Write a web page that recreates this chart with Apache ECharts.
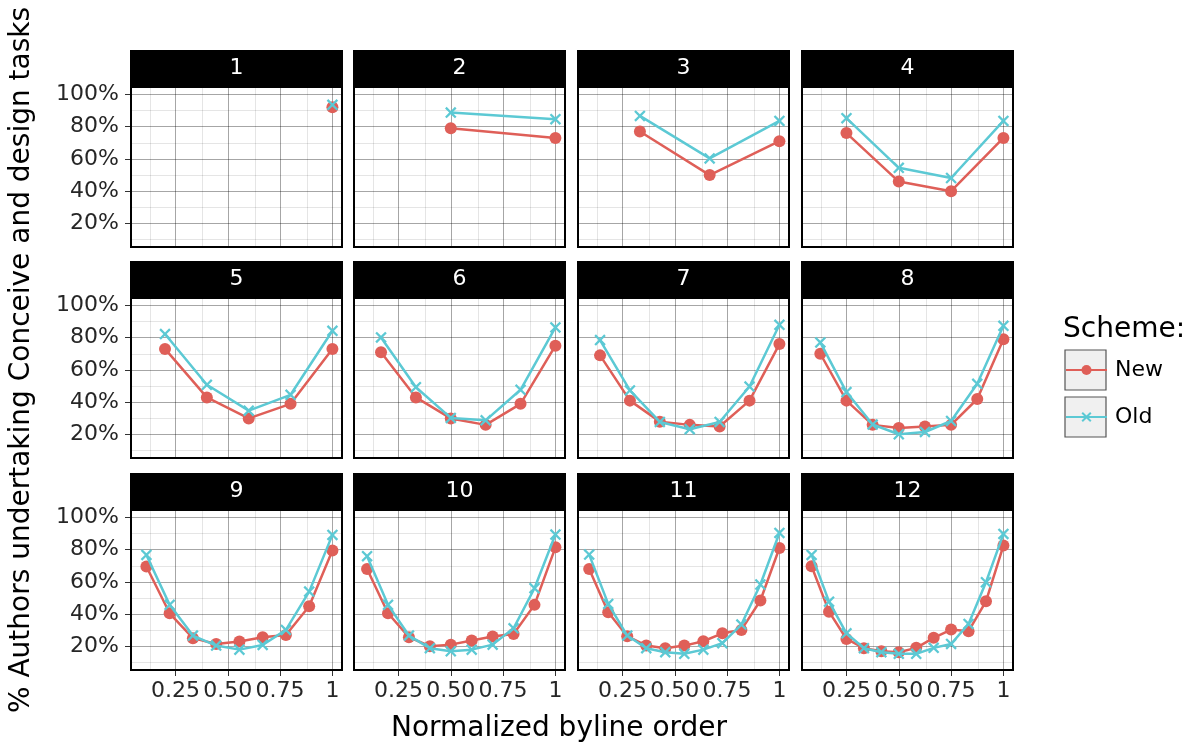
<!DOCTYPE html>
<html>
<head>
<meta charset="utf-8">
<script src="https://cdn.jsdelivr.net/npm/echarts@6/dist/echarts.min.js"></script>
<style>html,body{margin:0;padding:0;background:#fff}#c{width:1197px;height:749px}</style>
</head>
<body>
<div id="c"></div>
<script>
// ---- data ----
const panelLabels = ['1','2','3','4','5','6','7','8','9','10','11','12'];
const authorCounts = [1,2,3,4,5,6,7,8,9,10,11,12];
// % of authors undertaking "Conceive and design" by byline position (New scheme)
const newScheme = [
  [92],
  [79, 73],
  [77, 50, 71],
  [76, 46, 40, 73],
  [73, 43, 30, 39, 73],
  [71, 43, 30, 26, 39, 75],
  [69, 41, 28, 26, 25, 41, 76],
  [70, 41, 26, 24, 25, 26, 42, 79],
  [69.5, 40.6, 25.2, 21.6, 23.1, 25.8, 27.2, 44.9, 79.4],
  [68, 40.6, 25.8, 20.2, 21.2, 23.7, 26.2, 27.8, 45.8, 81.4],
  [68, 41.2, 26.4, 20.6, 19, 20.6, 23.3, 28.2, 30.3, 48.5, 81],
  [69.7, 41.6, 24.7, 19, 17.1, 16.5, 19.2, 25.4, 30.5, 29.5, 48, 82.5]
];
// (Old scheme)
const oldScheme = [
  [93.5],
  [88.7, 84.6],
  [86.6, 60.3, 83.5],
  [85.2, 54.5, 48.2, 83.5],
  [82.2, 50.8, 34.8, 44.6, 84.2],
  [80.1, 49.3, 30.3, 28.8, 47.7, 86.3],
  [78.5, 47.3, 27.8, 23.3, 27.8, 49.7, 87.9],
  [77, 46.3, 26.2, 20.2, 21.6, 28.4, 51.4, 87.3],
  [76.7, 45.8, 26.8, 20.6, 18.1, 21, 30.3, 54, 89.1],
  [75.9, 45.8, 26.8, 19, 17.1, 18.1, 21.2, 31.3, 56.1, 89.3],
  [76.9, 46.4, 26.8, 19, 16.5, 15.5, 18.1, 22.1, 33.6, 58.4, 90.3],
  [76.7, 47.8, 28.2, 19, 16.5, 15.5, 15.5, 19.2, 21.6, 34, 59.8, 89.7]
];
const xTicks = [0.25, 0.5, 0.75, 1];
const xTickLabels = ['0.25', '0.50', '0.75', '1'];
const xMinorBreaks = [0.125, 0.375, 0.625, 0.875];
const yTicks = [20, 40, 60, 80, 100];
const yTickLabels = ['20%', '40%', '60%', '80%', '100%'];
const yMinorBreaks = [10, 30, 50, 70, 90];
const seriesNames = ['New', 'Old'];
const xTitle = 'Normalized byline order';
const yTitle = '% Authors undertaking Conceive and design tasks';
const legendTitle = 'Scheme:';

// ---- layout / style ----
const FONT = 'DejaVu Sans';
const colLeft = [131, 354, 578, 802];
const rowTop = [87, 298, 510];
const PW = 211, PH = 160, STRIP = 37;
const X_MIN = 0.0375, X_MAX = 1.0458;
const Y_MIN = 5.5, Y_MAX = 104.5;
const RED = '#df5f58', CYAN = '#5cc9d4';
const X_PATH = 'path://M0,1.4L1.4,0L5,3.6L8.6,0L10,1.4L6.4,5L10,8.6L8.6,10L5,6.4L1.4,10L0,8.6L3.6,5Z';

const grids = [], xAxes = [], yAxes = [], series = [], graphics = [];
for (let i = 0; i < 12; i++) {
  const r = Math.floor(i / 4), c = i % 4;
  const left = colLeft[c], top = rowTop[r];
  grids.push({left, top, width: PW, height: PH, show: true, backgroundColor: '#fff', borderWidth: 0, containLabel: false, outerBoundsMode: 'none'});
  xAxes.push({
    gridIndex: i, type: 'value', min: X_MIN, max: X_MAX,
    axisLine: {show: false}, splitLine: {show: false},
    axisTick: {show: r === 2, customValues: xTicks, length: 6, lineStyle: {color: '#333', width: 1}},
    axisLabel: {show: r === 2, customValues: xTicks, hideOverlap: false, margin: 10,
      formatter: v => { const k = xTicks.findIndex(t => Math.abs(t - v) < 1e-9); return k >= 0 ? xTickLabels[k] : ''; },
      fontFamily: FONT, fontSize: 22, color: '#262626'}
  });
  yAxes.push({
    gridIndex: i, type: 'value', min: Y_MIN, max: Y_MAX,
    axisLine: {show: false}, splitLine: {show: false},
    axisTick: {show: c === 0, customValues: yTicks, length: 6, lineStyle: {color: '#333', width: 1}},
    axisLabel: {show: c === 0, customValues: yTicks, hideOverlap: false, margin: 12,
      formatter: v => { const k = yTicks.findIndex(t => Math.abs(t - v) < 1e-9); return k >= 0 ? yTickLabels[k] : ''; },
      fontFamily: FONT, fontSize: 22, color: '#262626'}
  });
  const gl = [];
  xMinorBreaks.forEach(v => gl.push({xAxis: v, lineStyle: {color: 'rgba(0,0,0,0.1)', width: 1, type: 'solid'}}));
  yMinorBreaks.forEach(v => gl.push({yAxis: v, lineStyle: {color: 'rgba(0,0,0,0.1)', width: 1, type: 'solid'}}));
  xTicks.forEach(v => gl.push({xAxis: v, lineStyle: {color: 'rgba(0,0,0,0.35)', width: 1, type: 'solid'}}));
  yTicks.forEach(v => gl.push({yAxis: v, lineStyle: {color: 'rgba(0,0,0,0.35)', width: 1, type: 'solid'}}));
  series.push({
    type: 'line', name: '_grid' + i, xAxisIndex: i, yAxisIndex: i, data: [], silent: true, z: 1,
    markLine: {silent: true, z: 1, symbol: ['none', 'none'], label: {show: false}, animation: false,
      emphasis: {disabled: true}, lineStyle: {type: 'solid'}, data: gl}
  });
  const n = authorCounts[i];
  const xs = newScheme[i].map((_, k) => (k + 1) / n);
  series.push({
    type: 'line', name: seriesNames[0], xAxisIndex: i, yAxisIndex: i, z: 3,
    data: newScheme[i].map((v, k) => [xs[k], v]),
    symbol: 'circle', symbolSize: 12, showSymbol: true,
    itemStyle: {color: RED}, lineStyle: {color: RED, width: 2.5},
    emphasis: {disabled: true}, animation: false
  });
  series.push({
    type: 'line', name: seriesNames[1], xAxisIndex: i, yAxisIndex: i, z: 4,
    data: oldScheme[i].map((v, k) => [xs[k], v]),
    symbol: X_PATH, symbolSize: 11.5, showSymbol: true,
    itemStyle: {color: CYAN}, lineStyle: {color: CYAN, width: 2.5},
    emphasis: {disabled: true}, animation: false
  });
  // panel border
  graphics.push({type: 'rect', z: 100, silent: true, shape: {x: left, y: top, width: PW, height: PH},
    style: {fill: 'none', stroke: '#000', lineWidth: 2}});
  // strip
  graphics.push({type: 'rect', z: 100, silent: true, shape: {x: left - 1, y: top - STRIP, width: PW + 2, height: STRIP},
    style: {fill: '#000'}});
  graphics.push({type: 'text', z: 101, silent: true, x: left + PW / 2, y: top - STRIP / 2,
    style: {text: panelLabels[i], fill: '#fff', font: '22px "' + FONT + '"', align: 'center', verticalAlign: 'middle'}});
}

// axis titles
graphics.push({type: 'text', z: 101, silent: true, x: 559, y: 729,
  style: {text: xTitle, fill: '#000', font: '28px "' + FONT + '"', align: 'center', verticalAlign: 'middle'}});
graphics.push({type: 'text', z: 101, silent: true, x: 22, y: 360, rotation: Math.PI / 2,
  style: {text: yTitle, fill: '#000', font: '28px "' + FONT + '"', align: 'center', verticalAlign: 'middle'}});
// legend title + key boxes
graphics.push({type: 'text', z: 101, silent: true, x: 1063, y: 330,
  style: {text: legendTitle, fill: '#000', font: '28px "' + FONT + '"', align: 'left', verticalAlign: 'middle'}});
graphics.push({type: 'rect', z: 0, silent: true, shape: {x: 1065, y: 350, width: 41, height: 40},
  style: {fill: '#f0f0f0', stroke: '#555', lineWidth: 1.2}});
graphics.push({type: 'rect', z: 0, silent: true, shape: {x: 1065, y: 397, width: 41, height: 40},
  style: {fill: '#f0f0f0', stroke: '#555', lineWidth: 1.2}});

const legendCommon = {orient: 'vertical', left: 1065, itemWidth: 41, itemHeight: 12.5, padding: 0, selectedMode: false,
  textStyle: {fontFamily: FONT, fontSize: 22, color: '#000', lineHeight: 26, padding: [0, 0, 0, 3]}, z: 50};

const chart = echarts.init(document.getElementById('c'), null, {renderer: 'canvas'});
chart.setOption({
  animation: false,
  backgroundColor: '#fff',
  grid: grids, xAxis: xAxes, yAxis: yAxes, series,
  legend: [
    Object.assign({}, legendCommon, {top: 357, data: [{name: seriesNames[0]}]}),
    Object.assign({}, legendCommon, {top: 404, data: [{name: seriesNames[1]}]})
  ],
  graphic: graphics
});
</script>
</body>
</html>
